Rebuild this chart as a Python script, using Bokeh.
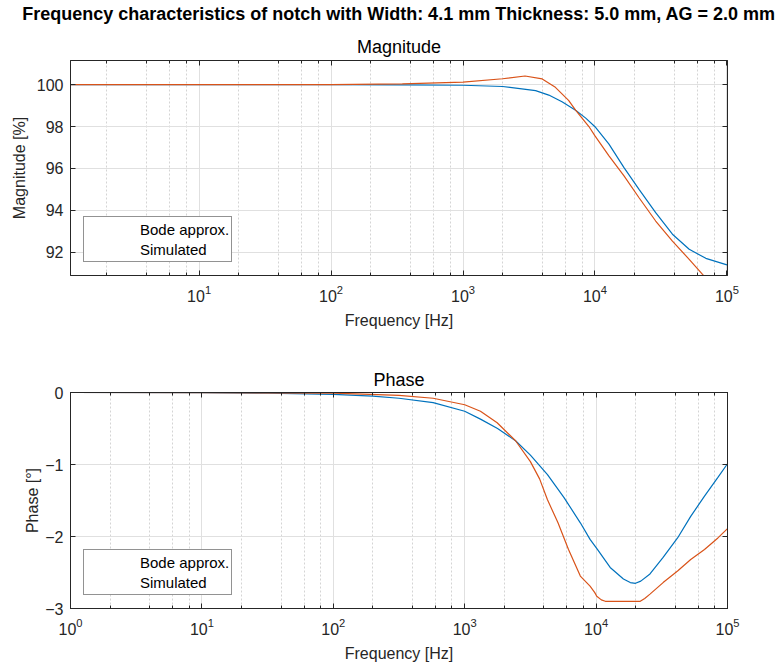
import numpy as np
from bokeh.plotting import figure
from bokeh.models import (LogAxis, LinearAxis, Title, Legend, LegendItem,
                          SingleIntervalTicker, Range1d, CustomJSTickFormatter)
from bokeh.layouts import column
from bokeh.embed import file_html
from bokeh.resources import INLINE

# ---------------- data ----------------
main_title = "Frequency characteristics of notch with Width: 4.1 mm Thickness: 5.0 mm, AG = 2.0 mm"
series_names = ["Bode approx.", "Simulated"]

# Magnitude [%], frequency given as log10(Hz)
mag_bode_logf = [0, 1, 2, 2.5, 3.0, 3.3, 3.55, 3.65, 3.75, 3.853, 3.93, 4.0,
                 4.106, 4.22, 4.334, 4.46, 4.587, 4.714, 4.84, 5.0]
mag_bode = [100, 100, 99.998, 99.99, 99.97, 99.91, 99.71, 99.5, 99.18, 98.78,
            98.4, 97.99, 97.16, 96.04, 95.0, 93.89, 92.86, 92.14, 91.71, 91.4]

mag_sim_logf = [0, 2, 2.54, 3.0, 3.3, 3.47, 3.6, 3.70, 3.80, 3.853, 3.954, 4.0,
                4.106, 4.22, 4.334, 4.46, 4.587, 4.714, 4.815, 5.0]
mag_sim = [100, 100, 100.03, 100.12, 100.28, 100.41, 100.27, 99.87, 99.25, 98.78,
           98.0, 97.55, 96.6, 95.64, 94.6, 93.49, 92.53, 91.66, 90.94, 89.7]

# Phase [deg]
ph_bode_logf = [0, 1, 1.5, 2, 2.3, 2.5, 2.76, 3.0, 3.12, 3.25, 3.387, 3.5, 3.63,
                3.756, 3.88, 3.954, 4.01, 4.107, 4.208, 4.26, 4.30, 4.34, 4.41,
                4.51, 4.62, 4.72, 4.825, 4.927, 5.0]
ph_bode = [0, -0.003, -0.01, -0.025, -0.05, -0.08, -0.14, -0.26, -0.37, -0.5,
           -0.67, -0.87, -1.14, -1.46, -1.81, -2.04, -2.18, -2.43, -2.59, -2.64,
           -2.65, -2.62, -2.52, -2.29, -2.02, -1.72, -1.44, -1.18, -0.99]

ph_sim_logf = [0, 1, 2, 2.5, 2.76, 3.0, 3.12, 3.247, 3.387, 3.5, 3.57, 3.63, 3.71,
               3.79, 3.88, 3.954, 3.99, 4.005, 4.04, 4.07, 4.336, 4.37, 4.41, 4.51,
               4.62, 4.72, 4.825, 4.927, 5.0]
ph_sim = [0, -0.001, -0.01, -0.04, -0.08, -0.17, -0.26, -0.42, -0.67, -0.96,
          -1.2, -1.49, -1.81, -2.18, -2.55, -2.69, -2.78, -2.83, -2.88, -2.90,
          -2.90, -2.86, -2.80, -2.64, -2.48, -2.32, -2.18, -2.02, -1.89]

# ---------------- styling ----------------
BLUE = "#0072BD"
ORANGE = "#D95319"
FONT = "Liberation Sans"
AX = "#262626"
TICK_FS = "16px"
LABEL_FS = "16px"
TITLE_FS = "18px"


def style(p, y_interval, y_label, label_standoff, x_label_standoff):
    p.xaxis.visible = False
    p.yaxis.visible = False
    xa = LogAxis(axis_label="Frequency [Hz]")
    ya = LinearAxis(axis_label=y_label, ticker=SingleIntervalTicker(interval=y_interval))
    xt = LogAxis(formatter=CustomJSTickFormatter(code="return ''"),
                 major_label_text_font_size="1px", major_label_standoff=0)
    yr = LinearAxis(ticker=SingleIntervalTicker(interval=y_interval),
                    formatter=CustomJSTickFormatter(code="return ''"),
                    major_label_text_font_size="1px", major_label_standoff=0)
    for a in (xa, ya, xt, yr):
        a.axis_line_color = AX
        a.major_tick_line_color = AX
        a.minor_tick_line_color = AX
        a.major_tick_in = 5
        a.major_tick_out = 0
        a.minor_tick_in = 3
        a.minor_tick_out = 0
        a.major_label_text_color = AX
        a.major_label_text_font = FONT
        a.axis_label_text_font = FONT
        a.axis_label_text_color = AX
        a.axis_label_text_font_style = "normal"
        a.axis_label_text_font_size = LABEL_FS
    for a in (ya, yr):
        a.minor_tick_line_color = None
    xa.major_label_text_font_size = TICK_FS
    ya.major_label_text_font_size = TICK_FS
    xa.major_label_standoff = 9
    xa.axis_label_standoff = x_label_standoff
    ya.major_label_standoff = 7
    ya.axis_label_standoff = label_standoff
    p.add_layout(xa, "below")
    p.add_layout(ya, "left")
    p.add_layout(xt, "above")
    p.add_layout(yr, "right")
    p.xgrid.grid_line_color = "#e0e0e0"
    p.ygrid.grid_line_color = "#e0e0e0"
    p.xgrid.minor_grid_line_color = "#d4d4d4"
    p.xgrid.minor_grid_line_dash = "2 2"
    p.xgrid.ticker = xa.ticker
    p.ygrid.ticker = ya.ticker
    p.outline_line_color = AX
    p.background_fill_color = "white"
    p.border_fill_color = "white"


def add_legend(p):
    # legend-only sample lines (no data), one per series
    k1 = p.line(x=[], y=[], line_color=BLUE, line_width=1.2)
    k2 = p.line(x=[], y=[], line_color=ORANGE, line_width=1.2)
    leg = Legend(items=[LegendItem(label=series_names[0], renderers=[k1]),
                        LegendItem(label=series_names[1], renderers=[k2])],
                 location=(13, 13), margin=0, padding=2, spacing=0,
                 glyph_width=49, glyph_height=20, label_height=20,
                 label_standoff=5, label_text_font=FONT,
                 label_text_font_size="15px", label_text_color="#000000",
                 border_line_color=AX, border_line_width=1,
                 background_fill_alpha=1.0)
    p.add_layout(leg)


def style_title(t, bold, standoff):
    t.align = "center"
    t.text_font = FONT
    t.text_font_size = TITLE_FS
    t.text_font_style = "bold" if bold else "normal"
    t.text_color = "#000000"
    t.standoff = standoff


# ---------------- overall title (own small canvas) ----------------
pt = figure(width=779, height=30, output_backend="svg", toolbar_location=None,
            min_border_left=70, min_border_right=52, min_border_top=0,
            min_border_bottom=0, x_range=Range1d(0, 1), y_range=Range1d(0, 1))
pt.title.text = main_title
style_title(pt.title, True, 2)
pt.axis.visible = False
pt.grid.visible = False
pt.outline_line_color = None
pt.background_fill_color = "white"
pt.border_fill_color = "white"

# ---------------- magnitude ----------------
p1 = figure(width=779, height=310, x_axis_type="log",
            x_range=Range1d(1.06, 1.01e5), y_range=Range1d(90.89, 101.15),
            output_backend="svg", toolbar_location=None,
            min_border_left=70, min_border_right=52,
            min_border_top=30, min_border_bottom=65)
p1.title.text = "Magnitude"
style_title(p1.title, False, 8)
style(p1, 2, "Magnitude [%]", 6, 7)
add_legend(p1)
p1.line([10 ** v for v in mag_bode_logf], mag_bode, line_color=BLUE, line_width=1.2)
p1.line([10 ** v for v in mag_sim_logf], mag_sim, line_color=ORANGE, line_width=1.2)

# ---------------- phase ----------------
p2 = figure(width=779, height=331, x_axis_type="log",
            x_range=Range1d(1, 1e5), y_range=Range1d(-3, 0),
            output_backend="svg", toolbar_location=None,
            min_border_left=70, min_border_right=52,
            min_border_top=52, min_border_bottom=63)
p2.title.text = "Phase"
style_title(p2.title, False, 6)
style(p2, 1, "Phase [°]", 1, 7)
add_legend(p2)
p2.line([10 ** v for v in ph_bode_logf], ph_bode, line_color=BLUE, line_width=1.2)
p2.line([10 ** v for v in ph_sim_logf], ph_sim, line_color=ORANGE, line_width=1.2)

layout = column(pt, p1, p2, spacing=0)
open("out.html", "w").write(file_html(layout, INLINE))
